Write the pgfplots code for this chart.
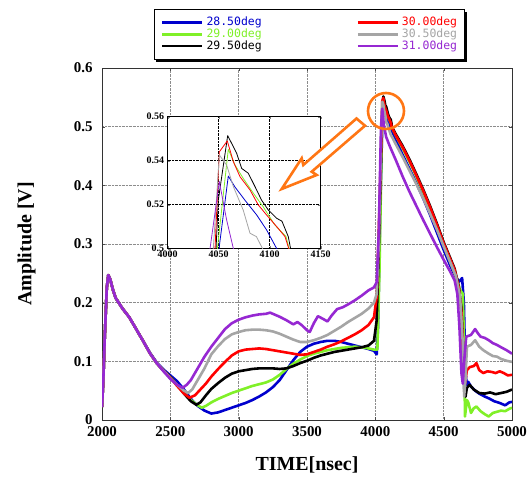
\documentclass[border=0pt]{standalone}
\usepackage{pgfplots}
\pgfplotsset{compat=1.18}
\usepackage{pgfplotstable}
\usepackage{fontspec}
\setmainfont{Liberation Serif}
\newfontfamily\legfont{DejaVu Sans Mono}

\definecolor{cA}{RGB}{0,0,205}     % 28.50deg
\definecolor{cB}{RGB}{128,240,40}  % 29.00deg
\definecolor{cC}{RGB}{0,0,0}       % 29.50deg
\definecolor{cD}{RGB}{255,0,0}     % 30.00deg
\definecolor{cE}{RGB}{165,165,165} % 30.50deg
\definecolor{cF}{RGB}{150,40,210}  % 31.00deg
\definecolor{arrorange}{RGB}{255,118,20}

% 28.50deg
\pgfplotstableread{
t v
2000 0.022
2010 0.07
2020 0.14
2035 0.225
2046 0.247
2060 0.240
2080 0.222
2100 0.208
2150 0.190
2200 0.175
2250 0.155
2300 0.135
2350 0.115
2400 0.098
2450 0.086
2500 0.076
2550 0.066
2600 0.052
2650 0.036
2700 0.024
2750 0.016
2800 0.011
2850 0.013
2900 0.017
2950 0.021
3000 0.025
3050 0.029
3100 0.034
3150 0.040
3200 0.047
3250 0.056
3300 0.068
3350 0.085
3400 0.102
3450 0.116
3500 0.125
3550 0.130
3600 0.133
3650 0.135
3700 0.135
3750 0.133
3800 0.130
3850 0.127
3900 0.124
3950 0.121
3990 0.118
4010 0.112
4020 0.16
4035 0.35
4050.3 0.5
4059.4 0.533
4066 0.528
4075.8 0.522
4087.3 0.5153
4097 0.5085
4106.9 0.5
4150 0.478
4200 0.452
4250 0.428
4300 0.404
4350 0.378
4400 0.350
4450 0.320
4500 0.290
4550 0.262
4590 0.243
4615 0.236
4635 0.242
4648 0.200
4658 0.090
4668 0.060
4680 0.065
4700 0.057
4730 0.050
4760 0.045
4800 0.040
4830 0.037
4870 0.032
4910 0.029
4950 0.025
4980 0.030
5000 0.031
}\dataA

% 29.00deg
\pgfplotstableread{
t v
2000 0.022
2010 0.07
2020 0.14
2035 0.225
2046 0.247
2060 0.240
2080 0.222
2100 0.208
2150 0.190
2200 0.175
2250 0.155
2300 0.135
2350 0.114
2400 0.097
2450 0.084
2500 0.073
2550 0.060
2600 0.046
2650 0.034
2700 0.025
2730 0.021
2760 0.024
2800 0.030
2850 0.036
2900 0.041
2950 0.046
3000 0.050
3050 0.054
3100 0.058
3150 0.061
3200 0.064
3250 0.069
3300 0.077
3350 0.087
3400 0.096
3450 0.103
3500 0.109
3550 0.113
3600 0.116
3650 0.119
3700 0.121
3750 0.123
3800 0.124
3850 0.125
3900 0.124
3950 0.122
3990 0.120
4015 0.120
4030 0.25
4048.7 0.5
4059.4 0.5452
4066 0.538
4074 0.532
4084 0.5252
4093.7 0.519
4105 0.5108
4116 0.5055
4119 0.5
4150 0.485
4200 0.463
4250 0.440
4300 0.415
4350 0.389
4400 0.360
4450 0.330
4500 0.298
4550 0.268
4590 0.245
4620 0.222
4640 0.215
4650 0.120
4656 0.006
4670 0.034
4680 0.030
4700 0.012
4720 0.020
4740 0.023
4770 0.015
4800 0.010
4830 0.006
4860 0.012
4890 0.014
4920 0.016
4950 0.015
4980 0.019
5000 0.021
}\dataB

% 29.50deg
\pgfplotstableread{
t v
2000 0.022
2010 0.07
2020 0.14
2035 0.225
2046 0.247
2060 0.240
2080 0.222
2100 0.208
2150 0.190
2200 0.175
2250 0.155
2300 0.135
2350 0.114
2400 0.097
2450 0.084
2500 0.073
2550 0.060
2600 0.045
2650 0.032
2690 0.026
2720 0.030
2760 0.042
2800 0.053
2850 0.063
2900 0.072
2950 0.079
3000 0.083
3050 0.085
3100 0.087
3150 0.088
3200 0.088
3250 0.088
3300 0.087
3350 0.088
3400 0.092
3450 0.097
3500 0.101
3550 0.106
3600 0.110
3650 0.113
3700 0.116
3750 0.118
3800 0.120
3850 0.122
3900 0.124
3950 0.127
3990 0.135
4010 0.17
4030 0.33
4047.4 0.5
4049.6 0.522
4058.8 0.5514
4067.6 0.5434
4072.5 0.5365
4079 0.5343
4085.6 0.5282
4092 0.5221
4098.6 0.5176
4106.9 0.5138
4112 0.5125
4118.2 0.5055
4120.5 0.5
4150 0.487
4200 0.467
4250 0.444
4300 0.419
4350 0.393
4400 0.365
4450 0.335
4500 0.303
4550 0.275
4580 0.258
4610 0.228
4630 0.190
4645 0.100
4652 0.045
4660 0.040
4670 0.055
4690 0.060
4720 0.052
4760 0.046
4800 0.045
4840 0.047
4880 0.044
4920 0.046
4960 0.048
5000 0.052
}\dataC

% 30.00deg
\pgfplotstableread{
t v
2000 0.022
2010 0.07
2020 0.14
2035 0.225
2046 0.247
2060 0.240
2080 0.222
2100 0.208
2150 0.190
2200 0.175
2250 0.155
2300 0.135
2350 0.114
2400 0.097
2450 0.084
2500 0.072
2550 0.058
2600 0.045
2640 0.038
2680 0.042
2720 0.052
2760 0.062
2800 0.074
2850 0.087
2900 0.099
2950 0.110
3000 0.117
3050 0.120
3100 0.121
3150 0.122
3200 0.121
3250 0.119
3300 0.117
3350 0.115
3400 0.113
3450 0.111
3500 0.112
3550 0.116
3600 0.120
3650 0.125
3700 0.129
3750 0.134
3800 0.140
3850 0.146
3900 0.153
3950 0.162
3990 0.175
4010 0.21
4030 0.36
4046.4 0.5
4050.6 0.544
4058.4 0.549
4064.4 0.5395
4070.9 0.5327
4080.7 0.5267
4088.8 0.5199
4097 0.5153
4106.9 0.510
4115 0.5055
4118.7 0.5
4150 0.485
4200 0.465
4250 0.442
4300 0.417
4350 0.391
4400 0.363
4450 0.333
4500 0.301
4550 0.273
4580 0.256
4610 0.226
4630 0.185
4645 0.100
4655 0.060
4670 0.085
4690 0.090
4720 0.092
4740 0.097
4760 0.085
4790 0.080
4820 0.083
4850 0.082
4880 0.080
4910 0.083
4940 0.080
4970 0.076
5000 0.077
}\dataD

% 30.50deg
\pgfplotstableread{
t v
2000 0.022
2010 0.07
2020 0.14
2035 0.225
2046 0.247
2060 0.240
2080 0.222
2100 0.208
2150 0.190
2200 0.175
2250 0.155
2300 0.135
2350 0.114
2400 0.097
2450 0.084
2500 0.071
2550 0.060
2600 0.050
2630 0.046
2660 0.052
2700 0.068
2750 0.088
2800 0.112
2850 0.126
2900 0.138
2950 0.146
3000 0.150
3050 0.153
3100 0.154
3150 0.154
3200 0.153
3250 0.151
3300 0.147
3350 0.142
3400 0.137
3450 0.133
3500 0.133
3550 0.136
3600 0.140
3650 0.145
3700 0.152
3750 0.159
3800 0.167
3850 0.174
3900 0.181
3950 0.190
3990 0.200
4010 0.215
4025 0.30
4044.7 0.5
4050.6 0.5426
4057.8 0.538
4064.4 0.5282
4074 0.5176
4080.7 0.507
4087 0.5055
4093 0.5
4110 0.488
4150 0.470
4200 0.448
4250 0.425
4300 0.402
4350 0.378
4400 0.352
4450 0.325
4500 0.296
4550 0.268
4590 0.245
4620 0.210
4640 0.130
4650 0.040
4660 0.070
4670 0.125
4700 0.128
4730 0.136
4760 0.125
4790 0.119
4830 0.113
4860 0.109
4890 0.108
4920 0.104
4960 0.101
5000 0.099
}\dataE

% 31.00deg
\pgfplotstableread{
t v
2000 0.022
2010 0.07
2020 0.14
2035 0.225
2046 0.247
2060 0.240
2080 0.222
2100 0.208
2150 0.190
2200 0.175
2250 0.155
2300 0.135
2350 0.114
2400 0.097
2450 0.083
2500 0.070
2550 0.060
2590 0.055
2620 0.060
2650 0.068
2700 0.088
2750 0.108
2800 0.125
2850 0.140
2900 0.155
2950 0.165
3000 0.171
3050 0.175
3100 0.178
3150 0.180
3200 0.181
3230 0.183
3260 0.180
3300 0.176
3350 0.170
3400 0.163
3430 0.167
3460 0.162
3500 0.153
3520 0.150
3550 0.165
3580 0.177
3620 0.172
3650 0.168
3680 0.178
3720 0.189
3760 0.192
3800 0.197
3850 0.204
3900 0.212
3950 0.221
3990 0.226
4010 0.235
4025 0.32
4041.5 0.5
4050.6 0.5305
4057.8 0.513
4064.4 0.5
4080 0.482
4107 0.466
4150 0.443
4200 0.415
4250 0.389
4300 0.365
4350 0.341
4400 0.318
4450 0.295
4500 0.273
4550 0.252
4580 0.238
4600 0.215
4615 0.160
4630 0.080
4640 0.062
4650 0.100
4665 0.142
4700 0.145
4730 0.155
4750 0.148
4770 0.142
4800 0.140
4830 0.136
4860 0.131
4890 0.128
4920 0.124
4960 0.119
5000 0.113
}\dataF

\begin{document}
\begin{tikzpicture}
\path[use as bounding box] (0bp,0bp) rectangle (531bp,478bp);

\begin{axis}[
    at={(102bp,58bp)}, anchor=south west,
    scale only axis, width=410bp, height=352bp,
    xmin=2000, xmax=5000, ymin=0, ymax=0.6,
    xtick={2000,2500,3000,3500,4000,4500,5000},
    ytick={0,0.1,0.2,0.3,0.4,0.5,0.6},
    grid=major,
    grid style={densely dotted, black!45, line width=0.5bp},
    axis line style={line width=0.7bp, black!80},
    tick align=inside, major tick length=3bp,
    tick style={black!70},
    /pgf/number format/assume math mode=true,
    ticklabel style={font=\bfseries\fontsize{15}{15}\selectfont},
    x tick label style={/pgf/number format/1000 sep={}, yshift=-3bp},
    y tick label style={/pgf/number format/fixed, xshift=-6bp},
    xlabel={TIME[nsec]}, ylabel={Amplitude [V]},
    label style={font=\bfseries\fontsize{20}{20}\selectfont},
    xlabel style={at={(axis description cs:0.5,-0.128)}, anchor=center},
    ylabel style={at={(axis description cs:-0.184,0.5)}, anchor=center},
    legend columns=2,
    legend cell align=left,
    legend image code/.code={\draw[#1] (0bp,0bp) -- (40bp,0bp);},
    legend style={
        name=leg,
        at={(axis description cs:0.5054,1.0952)}, anchor=center,
        draw=black, line width=0.8bp, fill=white,
        inner xsep=7bp, inner ysep=7bp,
        font=\legfont\fontsize{11.5}{11.5}\selectfont,
        nodes={inner sep=0bp, text height=8.7bp, text depth=3.2bp},
        column sep=3bp,
        /tikz/every even column/.append style={column sep=95bp}},
    every axis plot/.append style={line width=2.6bp, line join=round},
]
\addlegendimage{cA, line width=2.2bp}
\addlegendentry{\textcolor{cA}{28.50deg}}
\addlegendimage{cD, line width=2.2bp}
\addlegendentry{\textcolor{cD}{30.00deg}}
\addlegendimage{cB, line width=2.2bp}
\addlegendentry{\textcolor{cB}{29.00deg}}
\addlegendimage{cE, line width=2.2bp}
\addlegendentry{\textcolor{cE}{30.50deg}}
\addlegendimage{cC, line width=2.2bp}
\addlegendentry{\textcolor{cC}{29.50deg}}
\addlegendimage{cF, line width=2.2bp}
\addlegendentry{\textcolor{cF}{31.00deg}}

\addplot[cA, forget plot] table[x=t, y=v] {\dataA};
\addplot[cB, forget plot] table[x=t, y=v] {\dataB};
\addplot[cC, forget plot] table[x=t, y=v] {\dataC};
\addplot[cD, forget plot] table[x=t, y=v] {\dataD};
\addplot[cE, forget plot] table[x=t, y=v] {\dataE};
\addplot[cF, forget plot] table[x=t, y=v] {\dataF};
\end{axis}

% legend shadow (right and bottom strips)
\fill[black] ([yshift=-2.5bp]leg.north east) rectangle ([xshift=2.5bp,yshift=-2.5bp]leg.south east);
\fill[black] ([xshift=2.5bp]leg.south west) rectangle ([xshift=2.5bp,yshift=-2.5bp]leg.south east);

\begin{axis}[
    at={(167.7bp,229.3bp)}, anchor=south west,
    scale only axis, width=153bp, height=132bp,
    axis background/.style={fill=white},
    xmin=4000, xmax=4150, ymin=0.5, ymax=0.56,
    xtick={4000,4050,4100,4150},
    ytick={0.5,0.52,0.54,0.56},
    grid=major,
    grid style={densely dotted, black, line width=0.6bp},
    axis line style={line width=1.2bp, black},
    tick align=inside, major tick length=2.5bp,
    /pgf/number format/assume math mode=true,
    ticklabel style={font=\bfseries\fontsize{10}{10}\selectfont},
    x tick label style={/pgf/number format/1000 sep={}, yshift=1bp},
    y tick label style={/pgf/number format/fixed},
    every axis plot/.append style={line width=0.8bp, line join=round},
]
\addplot[cA, restrict x to domain=3990:4160] table[x=t, y=v] {\dataA};
\addplot[cB, restrict x to domain=3990:4160] table[x=t, y=v] {\dataB};
\addplot[cC, restrict x to domain=3990:4160] table[x=t, y=v] {\dataC};
\addplot[cD, restrict x to domain=3990:4160] table[x=t, y=v] {\dataD};
\addplot[cE, restrict x to domain=3990:4160] table[x=t, y=v] {\dataE};
\addplot[cF, restrict x to domain=3990:4160] table[x=t, y=v] {\dataF};
\end{axis}

% highlight circle and hollow arrow
\draw[arrorange, line width=2.6bp] (386bp,367bp) circle (18bp);
\draw[arrorange, line width=2.6bp, line join=miter, fill=white]
    (281.7bp,289bp) -- (301.7bp,319.7bp) -- (303.3bp,313bp)
    -- (356.5bp,359.5bp) -- (365bp,352.3bp)
    -- (311.7bp,306.3bp) -- (316.7bp,303bp) -- cycle;
\end{tikzpicture}
\end{document}
